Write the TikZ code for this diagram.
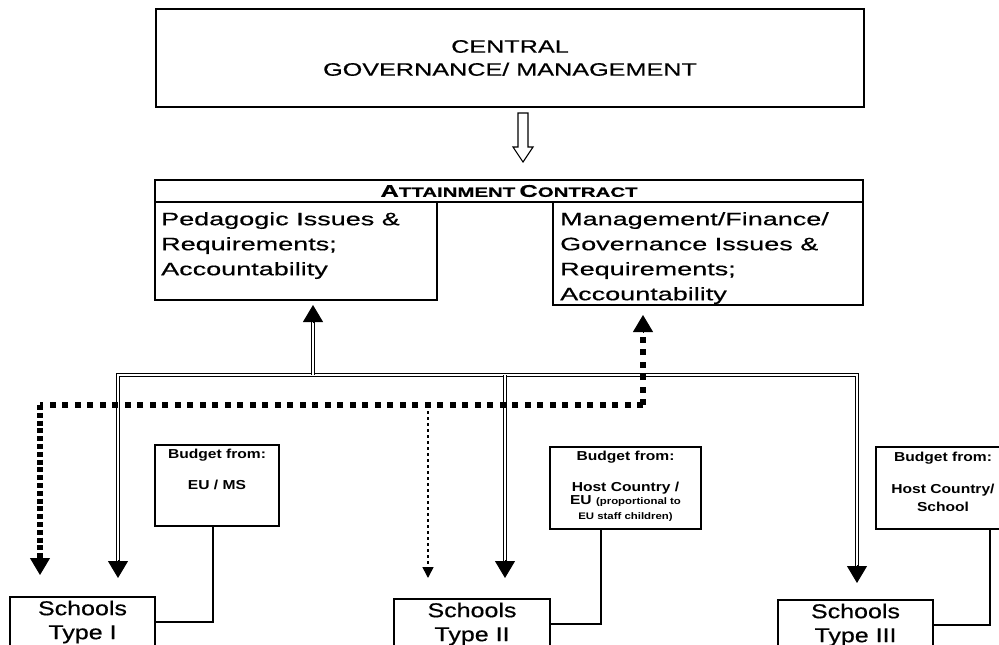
\documentclass[tikz,border=0pt]{standalone}
\usepackage{fontspec}
\setmainfont{Liberation Sans}
% widened sans faces for the different text blocks
\newfontfamily\fntCen[FakeStretch=1.4,FakeBold=0.5]{Liberation Sans}
\newfontfamily\fntBox[FakeStretch=1.5,FakeBold=0.5]{Liberation Sans}
\newfontfamily\fntSch[FakeStretch=1.25,FakeBold=0.5]{Liberation Sans}
\newfontfamily\fntBud[FakeStretch=1.2]{Liberation Sans}
\usetikzlibrary{arrows.meta,calc}

\begin{document}
\begin{tikzpicture}[x=1pt,y=-1pt,
  frame/.style={draw, line width=1.4pt, inner sep=0pt},
  boxtxt/.style={inner sep=0pt, align=left, font=\fntBox\fontsize{18}{25}\selectfont},
  budtxt/.style={inner sep=0pt, align=center, font=\fntBud\bfseries\fontsize{13}{15.5}\selectfont},
  school/.style={frame, align=center, font=\fntSch\fontsize{20}{24}\selectfont},
  bus/.style={double, double distance=1.3pt, line width=1.6pt},
  tipA/.style={-{Triangle[length=17pt,width=20pt]}, line width=1pt},
  dotline/.style={line width=6pt, dash pattern=on 6pt off 6.5pt},
  dotdense/.style={line width=6pt, dash pattern=on 5pt off 2.8pt},
  dotthin/.style={line width=1.6pt, dash pattern=on 3pt off 3pt},
  conn/.style={line width=1.3pt}
]
\useasboundingbox (0,0) rectangle (999,645);
\begin{scope}
\clip (0,0) rectangle (999,645);

% top level
\node[frame, minimum width=708pt, minimum height=98pt, align=center,
      font=\fntCen\fontsize{18}{23}\selectfont] (cgm) at (510,58)
      {CENTRAL\\GOVERNANCE/ MANAGEMENT};

% hollow arrow down to the contract
\coordinate (ha) at (523,113);
\draw[line width=1.1pt, fill=white] (ha) ++(-5,0) -- ++(10,0) -- ++(0,34)
  -- ++(5,0) -- ++(-10,15) -- ++(-10,-15) -- ++(5,0) -- cycle;

% attainment contract
\node[frame, minimum width=708pt, minimum height=22pt,
      font=\fntBox\bfseries] (ac) at (509,191)
  {{\fontsize{17}{18}\selectfont A}{\fontsize{13.6}{18}\selectfont TTAINMENT}
   {\fontsize{17}{18}\selectfont C}{\fontsize{13.6}{18}\selectfont ONTRACT}};
\node[frame, minimum width=282pt, minimum height=98pt] (ped) at (296,251) {};
\node[frame, minimum width=310pt, minimum height=103pt] (mgt) at (708,253.5) {};
\node[boxtxt, anchor=north west] (pedt) at (161,212)
  {Pedagogic Issues \&\\Requirements;\\Accountability};
\node[boxtxt, anchor=north west] (mgtt) at (560,212)
  {Management/Finance/\\Governance Issues \&\\Requirements;\\Accountability};

% schools
\node[school, minimum width=145pt, minimum height=50pt] (s1) at (82.5,622) {Schools\\Type I};
\node[school, minimum width=156pt, minimum height=50pt] (s2) at (472,624) {Schools\\Type II};
\node[school, minimum width=155pt, minimum height=50pt] (s3) at (855.5,625) {Schools\\Type III};

% budget boxes
\node[frame, minimum width=124pt, minimum height=81pt] (bud1) at (217,485.5) {};
\node[frame, minimum width=151pt, minimum height=82pt] (bud2) at (625.5,488) {};
\node[frame, minimum width=138pt, minimum height=82pt] (bud3) at (945,488) {};
\node[budtxt, anchor=north] (bud1t) at (217,449) {Budget from:\\[15.5pt]EU / MS};
\node[budtxt, anchor=north] (bud2t) at (625.5,451)
  {Budget from:\\[15pt]Host Country /\\[-2pt]
   EU {\fontsize{9.5}{11}\selectfont (proportional to}\\[-1pt]
   {\fontsize{9.5}{11}\selectfont EU staff children)}};
\node[budtxt, anchor=north] (bud3t) at (943,452)
  {Budget from:\\[16pt]Host Country/\\[3pt]School};

% budget feeds
\draw[conn] ([xshift=-4pt]bud1.south) |- (s1.east);
\draw[conn] ([xshift=-24.5pt]bud2.south) |- (s2.east);
\draw[conn] ([xshift=45pt]bud3.south) |- (s3.east);

% double-line distribution bus
\coordinate (b1) at (118,375);
\coordinate (b3) at (857,375);
\coordinate (j2) at (505,375);
\coordinate (ju) at (313,375);
\coordinate (t1) at (118,578);
\coordinate (t2) at (505,578);
\coordinate (t3) at (857,583);
\coordinate (tu) at (313,305);
\draw[bus] ($(t1)+(0,-17)$) -- (b1) -- (b3) -- ($(t3)+(0,-17)$);
\draw[bus] (j2) -- ($(t2)+(0,-17)$);
\draw[bus] (ju) -- ($(tu)+(0,17)$);
\draw[tipA] ($(t1)+(0,-18)$) -- (t1);
\draw[tipA] ($(t2)+(0,-18)$) -- (t2);
\draw[tipA] ($(t3)+(0,-18)$) -- (t3);
\draw[tipA] ($(tu)+(0,18)$) -- (tu);

% dotted accountability line
\coordinate (d0) at (40,405);
\coordinate (d1) at (643,405);
\coordinate (d2) at (428,405);
\coordinate (td0) at (40,575);
\coordinate (td1) at (643,315);
\coordinate (td2) at (428,578);
\draw[dotline] (d1) -- (d0);
\draw[dotdense] (d0) -- ($(td0)+(0,-17)$);
\draw[dotline] (d1) -- ($(td1)+(0,17)$);
\draw[tipA] ($(td0)+(0,-18)$) -- (td0);
\draw[tipA] ($(td1)+(0,18)$) -- (td1);
\draw[dotthin, -{Triangle[length=11pt,width=11pt]}] (d2) -- (td2);
\end{scope}
\end{tikzpicture}
\end{document}
